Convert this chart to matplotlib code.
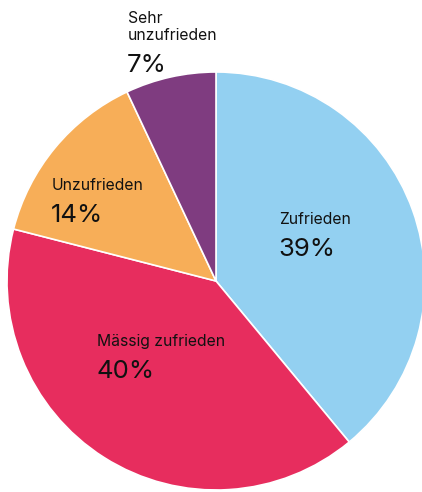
import matplotlib.pyplot as plt

# survey answers, clockwise from 12 o'clock
labels = ['Zufrieden', 'Mässig zufrieden', 'Unzufrieden', 'Sehr\nunzufrieden']
shares = [39, 40, 14, 7]
colors = ['#93d0f1', '#e72d5e', '#f7ae58', '#7f3c80']

W, H = 422, 492
fig = plt.figure(figsize=(W / 100, H / 100), dpi=100)
ax = fig.add_axes([0, 0, 1, 1])

cx, cy, r = 216, H - 281, 209
ax.pie(shares, colors=colors, startangle=90, counterclock=False,
       center=(cx, cy), radius=r, frame=True,
       wedgeprops={'edgecolor': 'white', 'linewidth': 1.2})
ax.set_xlim(0, W)
ax.set_ylim(0, H)
ax.set_aspect('equal')
ax.axis('off')

# label anchor (x, baseline of last label line) in image pixels
anchors = [(279, 224), (97, 346), (52, 190), (128, 40)]
for lab, val, (x, y) in zip(labels, shares, anchors):
    ax.text(x, H - y, lab, fontsize=11.3, family='Inter', color='#111111',
            ha='left', va='baseline', linespacing=1.2)
    ax.text(x - 1, H - y - 32, f'{val}%', fontsize=18.5, family='Inter',
            color='#111111', ha='left', va='baseline')

fig.savefig('out.png', dpi=100)
